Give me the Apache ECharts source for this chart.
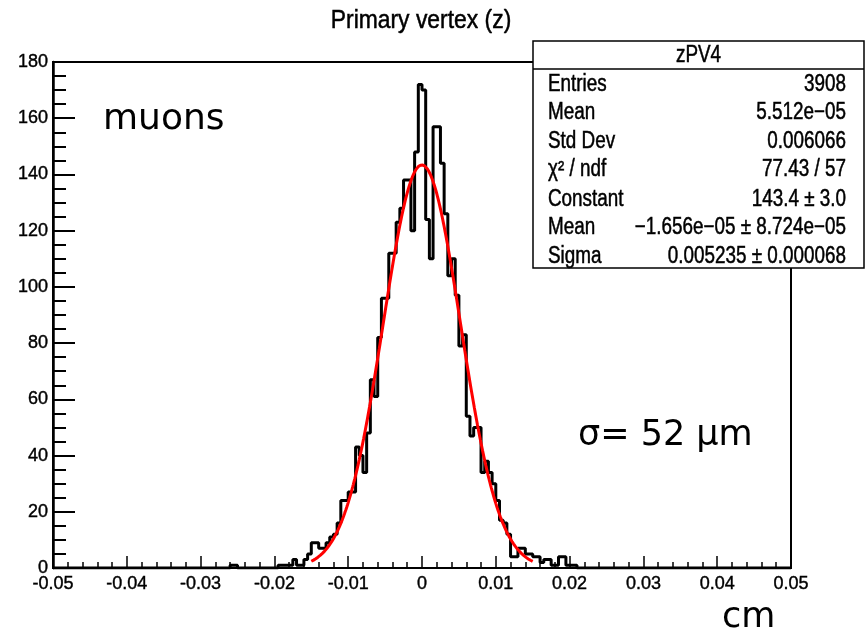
<!DOCTYPE html>
<html><head><meta charset="utf-8">
<script src="https://cdn.jsdelivr.net/npm/echarts@6/dist/echarts.min.js"></script>
<style>html,body{margin:0;padding:0;background:#fff}#c{width:867px;height:634px}</style>
</head><body><div id="c"></div>
<script>
// ---- data ----
const binLow = -0.05;
const binWidth = 0.0005;
// 200 bins from -0.05 to 0.05
const counts = [
  0,0,0,0,0,0,0,0,0,0, 0,0,0,0,0,0,0,0,0,0,
  0,0,0,0,0,0,0,0,0,0, 0,0,0,0,0,0,0,0,0,0,
  0,0,0,0,0,0,0,0,1,1, 0,0,0,0,0,0,0,0,0,0,
  0,1,1,1,1,3,1,1,3,5, 9,9,7,7,9,11,12,16,24,24,
  27,27,43,40,34,48,67,61,82,96, 96,112,112,123,128,138,138,120,148,172,
  170,124,110,157,157,144,126,104,110,97, 79,83,54,47,50,50,34,38,34,30,
  24,17,16,12,4,4,7,7,5,5, 4,4,2,3,3,1,1,4,4,1,
  1,1,0,0,0,0,0,0,0,0, 0,0,0,0,0,0,0,0,0,0,
  0,0,0,0,0,0,0,0,0,0, 0,0,0,0,0,0,0,0,0,0,
  0,0,0,0,0,0,0,0,0,0, 0,0,0,0,0,0,0,0,0,0
];
// Gaussian fit parameters (from stats box)
const fitConstant = 143.4;
const fitMean = -1.656e-05;
const fitSigma = 0.005235;
const fitRange = [-0.015, 0.015];
const xTickLabels = ['-0.05','-0.04','-0.03','-0.02','-0.01','0','0.01','0.02','0.03','0.04','0.05'];
const yTickLabels = ['0','20','40','60','80','100','120','140','160','180'];
const statsTitle = 'zPV4';
const statsNames = ['Entries','Mean','Std Dev','χ² / ndf','Constant','Mean','Sigma'];
const statsValues = ['3908','5.512e\u221205','0.006066','77.43 / 57','143.4 \u00b1 3.0','\u22121.656e\u221205 \u00b1 8.724e\u221205','0.005235 \u00b1 0.000068'];

// ---- build ----
const histData = counts.map((c, i) => [binLow + i * binWidth, c]);
histData.push([binLow + counts.length * binWidth, counts[counts.length - 1]]);
const fitData = [];
const nFit = 300;
for (let j = 0; j <= nFit; j++) {
  const x = fitRange[0] + (fitRange[1] - fitRange[0]) * j / nFit;
  const t = (x - fitMean) / fitSigma;
  fitData.push([x, fitConstant * Math.exp(-0.5 * t * t)]);
}

const rootFont = "'Liberation Sans', Arial, sans-serif";
const plotLeft = 53, plotRight = 791, plotTop = 62, plotBottom = 568;

const statsX0 = 533, statsX1 = 864, statsY0 = 41, statsHead = 69, statsY1 = 268;
const rowY = [85, 113, 142, 170, 200, 228, 257];
const sx = 0.82;
const heavy = { stroke: '#000', lineWidth: 0.5 };
const statsGraphics = [
  { type: 'rect', shape: { x: statsX0, y: statsY0, width: statsX1 - statsX0, height: statsY1 - statsY0 },
    style: { fill: '#fff', stroke: '#000', lineWidth: 1.5 }, z: 100 },
  { type: 'line', shape: { x1: statsX0, y1: statsHead, x2: statsX1, y2: statsHead },
    style: { stroke: '#000', lineWidth: 1.5 }, z: 101 },
  { type: 'text', x: (statsX0 + statsX1) / 2, y: (statsY0 + statsHead) / 2 + 1, z: 101, scaleX: sx,
    style: Object.assign({ text: statsTitle, font: '23px ' + rootFont, fill: '#000', align: 'center', verticalAlign: 'middle' }, heavy) }
];
statsNames.forEach((n, i) => {
  statsGraphics.push({ type: 'text', x: 548, y: rowY[i], z: 101, scaleX: sx,
    style: Object.assign({ text: n, font: '23px ' + rootFont, fill: '#000', align: 'left', verticalAlign: 'middle' }, heavy) });
  statsGraphics.push({ type: 'text', x: 846, y: rowY[i], z: 101, scaleX: sx,
    style: Object.assign({ text: statsValues[i], font: '23px ' + rootFont, fill: '#000', align: 'right', verticalAlign: 'middle' }, heavy) });
});

const chart = echarts.init(document.getElementById('c'), null, { renderer: 'canvas' });
chart.setOption({
  animation: false,
  backgroundColor: '#fff',
  grid: { left: plotLeft, right: 867 - plotRight, top: plotTop, bottom: 634 - plotBottom,
          show: true, borderColor: '#000', borderWidth: 2, backgroundColor: 'transparent' },
  xAxis: {
    type: 'value', min: -0.05, max: 0.05, interval: 0.01,
    axisLine: { show: true, onZero: false, lineStyle: { color: '#000', width: 2 } },
    axisTick: { show: true, inside: true, length: 12, lineStyle: { color: '#000', width: 1.5 } },
    minorTick: { show: true, splitNumber: 5, length: 6, lineStyle: { color: '#000', width: 1.5 } },
    splitLine: { show: false },
    axisLabel: { color: '#000', fontSize: 18, fontFamily: rootFont, margin: 7,
      textBorderColor: '#000', textBorderWidth: 0.4,
      formatter: v => xTickLabels[Math.round((v - (-0.05)) / 0.01)] }
  },
  yAxis: {
    type: 'value', min: 0, max: 180, interval: 20,
    axisLine: { show: true, onZero: false, lineStyle: { color: '#000', width: 2.5 } },
    axisTick: { show: true, inside: true, length: 22, lineStyle: { color: '#000', width: 2 } },
    minorTick: { show: true, splitNumber: 4, length: 13, lineStyle: { color: '#000', width: 2 } },
    splitLine: { show: false },
    axisLabel: { color: '#000', fontSize: 18, fontFamily: rootFont, margin: 5,
      textBorderColor: '#000', textBorderWidth: 0.4,
      formatter: v => yTickLabels[Math.round(v / 20)] }
  },
  series: [
    { type: 'line', name: 'zPV4', data: histData, step: 'end', symbol: 'none',
      lineStyle: { color: '#000', width: 3 }, z: 3 },
    { type: 'line', name: 'fit', data: fitData, symbol: 'none', smooth: false,
      lineStyle: { color: '#ff0000', width: 3 }, z: 4 }
  ],
  graphic: [
    { type: 'text', x: 421, y: 21, z: 50, scaleX: 0.88,
      style: Object.assign({ text: 'Primary vertex (z)', font: '26px ' + rootFont, fill: '#000', align: 'center', verticalAlign: 'middle' }, heavy) },
    { type: 'text', x: 103, y: 120, z: 50,
      style: { text: 'muons', font: '36px "DejaVu Sans"', fill: '#000', align: 'left', verticalAlign: 'middle' } },
    { type: 'text', x: 578, y: 436, z: 50,
      style: { text: 'σ= 52 μm', font: '35px "DejaVu Sans"', fill: '#000', align: 'left', verticalAlign: 'middle' } },
    { type: 'text', x: 722, y: 618, z: 50,
      style: { text: 'cm', font: '35px "DejaVu Sans"', fill: '#000', align: 'left', verticalAlign: 'middle' } }
  ].concat(statsGraphics)
});
</script>
</body></html>
